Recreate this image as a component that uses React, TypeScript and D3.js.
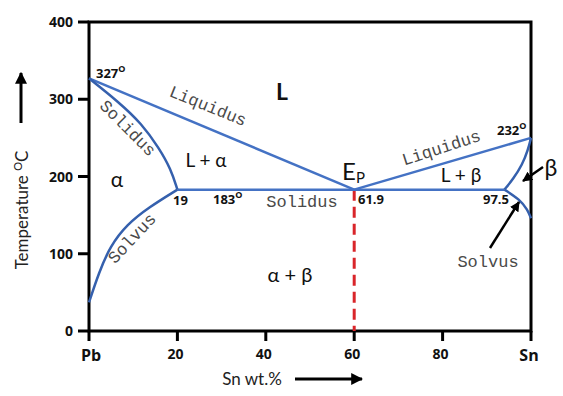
import React from 'react';
import * as d3 from 'd3';

// phase boundaries, [Sn wt.%, temperature]
const liquidusLeft = [[0, 327], [60, 183]];
const liquidusRight = [[60, 183], [100, 250]];
const eutecticLine = [[20, 183], [94, 183]];
const solidusLeft = [[0, 327], [6.6, 297], [12, 268], [15.8, 237], [18.5, 210], [20, 183]];
const solvusLeft = [[20, 183], [13.5, 160], [8.6, 138], [4.8, 110], [2.2, 75], [0, 37]];
const solidusRight = [[94, 183], [96, 197], [98, 215], [99.3, 234], [100, 250]];
const solvusRight = [[94, 183], [97.5, 170], [99.2, 157], [100, 146]];
const eutecticComp = [[60, 183], [60, 0]];

const xTicks = [0, 20, 40, 60, 80, 100];
const xTickLabels = ['Pb', '20', '40', '60', '80', 'Sn'];
const yTicks = [0, 100, 200, 300, 400];

const sans = 'Lato, "Open Sans", sans-serif';
const bold = '"Open Sans", sans-serif';
const mono = '"Liberation Mono", "DejaVu Sans Mono", monospace';

export default function App() {
  const width = 563;
  const height = 396;
  const x = d3.scaleLinear().domain([0, 100]).range([89, 531]);
  const y = d3.scaleLinear().domain([0, 400]).range([331, 22]);

  const straight = d3.line<number[]>().x(d => x(d[0])).y(d => y(d[1]));
  const curved = d3.line<number[]>().x(d => x(d[0])).y(d => y(d[1])).curve(d3.curveBasis);

  const blue = '#4472C4';
  const darkBlue = '#3560ad';
  const gray = '#4a4a4a';

  const deg = (t: string, tx: number, ty: number, size = 13) => (
    <text x={tx} y={ty} fontFamily={bold} fontWeight="bold" fontSize={size} fill="#111">
      {t}
      <tspan fontSize={9} dy={-6}>O</tspan>
    </text>
  );

  return (
    <svg width={width} height={height} style={{ position: 'absolute', left: 0, top: 0 }}>
      <defs>
        <marker id="head" viewBox="0 0 10 10" refX="9" refY="5" markerWidth="4" markerHeight="4" orient="auto">
          <path d="M0,0 L10,5 L0,10 z" fill="#000" />
        </marker>
      </defs>

      {/* frame */}
      <g stroke="#000" strokeWidth={3} fill="none">
        <path d={`M${x(0)},${y(400)} H${x(100)} V${y(0)} H${x(0)} Z`} />
        {yTicks.map(t => (
          <line key={t} x1={x(0) - 11} x2={x(0)} y1={y(t)} y2={y(t)} />
        ))}
        {xTicks.map(t => (
          <line key={t} x1={x(t)} x2={x(t)} y1={y(0)} y2={y(0) + 10} />
        ))}
      </g>
      {yTicks.map(t => (
        <text key={t} x={73} y={y(t) + 5} textAnchor="end" fontFamily={bold} fontWeight="bold" fontSize={14} fill="#111">
          {t}
        </text>
      ))}
      {xTicks.map((t, i) => (
        <text key={t} x={x(t) - (i === 0 ? -2 : 2)} y={i === 0 || i === 5 ? 361 : 359} textAnchor="middle"
          fontFamily={bold} fontWeight="bold" fontSize={i === 0 || i === 5 ? 16 : 14} fill="#111">
          {xTickLabels[i]}
        </text>
      ))}

      {/* axis titles with arrows */}
      <text transform="translate(28,210) rotate(-90)" textAnchor="middle" fontFamily={sans} fontSize={17} fill="#222">
        Temperature <tspan fontSize={11} dy={-6}>O</tspan><tspan dy={6}>C</tspan>
      </text>
      <line x1={21} x2={21} y1={123} y2={73} stroke="#000" strokeWidth={3} markerEnd="url(#head)" />
      <text x={252} y={385} textAnchor="middle" fontFamily={sans} fontSize={17} fill="#222">Sn wt.%</text>
      <line x1={295} x2={362} y1={379} y2={379} stroke="#000" strokeWidth={3} markerEnd="url(#head)" />

      {/* eutectic composition */}
      <path d={straight(eutecticComp) || ''} stroke="#d9252a" strokeWidth={3} strokeDasharray="11 6" fill="none" />

      {/* phase boundaries */}
      <g fill="none" strokeWidth={2.5} strokeLinejoin="round">
        <path d={straight(liquidusLeft) || ''} stroke={blue} />
        <path d={straight(liquidusRight) || ''} stroke={blue} />
        <path d={straight(eutecticLine) || ''} stroke={blue} />
        <path d={curved(solidusLeft) || ''} stroke={darkBlue} />
        <path d={curved(solvusLeft) || ''} stroke={darkBlue} />
        <path d={curved(solidusRight) || ''} stroke={darkBlue} />
        <path d={curved(solvusRight) || ''} stroke={darkBlue} />
      </g>

      {/* boundary names */}
      <g fontFamily={mono} fontSize={17} fill={gray} textAnchor="middle">
        <text transform="translate(206,111) rotate(22)">Liquidus</text>
        <text transform="translate(124,132) rotate(45)">Solidus</text>
        <text transform="translate(136,242) rotate(-47)">Solvus</text>
        <text transform="translate(443,153) rotate(-18)">Liquidus</text>
        <text x={302} y={207}>Solidus</text>
        <text x={488} y={267}>Solvus</text>
      </g>

      {/* phase regions */}
      <g fontFamily={sans} fill="#111" textAnchor="middle">
        <text x={282} y={100} fontSize={23} fontWeight="bold">L</text>
        <text x={206} y={167} fontSize={19}>L + α</text>
        <text x={117} y={187} fontSize={21}>α</text>
        <text x={461} y={182} fontSize={19}>L + β</text>
        <text x={551} y={176} fontSize={23}>β</text>
        <text x={290} y={282} fontSize={20}>α + β</text>
        <text x={342} y={180} fontSize={24} textAnchor="start">
          E<tspan fontSize={15} dy={3}>P</tspan>
        </text>
      </g>

      {/* compositions and temperatures */}
      <g fontFamily={bold} fontWeight="bold" fontSize={13} fill="#111">
        <text x={173} y={205}>19</text>
        <text x={358} y={204}>61.9</text>
        <text x={483} y={204}>97.5</text>
      </g>
      {deg('183', 213, 204)}
      {deg('327', 96, 78)}
      {deg('232', 497, 135)}

      {/* pointers */}
      <line x1={543} y1={167} x2={523} y2={181} stroke="#000" strokeWidth={2.5} markerEnd="url(#head)" />
      <line x1={490} y1={248} x2={519} y2={202} stroke="#000" strokeWidth={2.5} markerEnd="url(#head)" />
    </svg>
  );
}
